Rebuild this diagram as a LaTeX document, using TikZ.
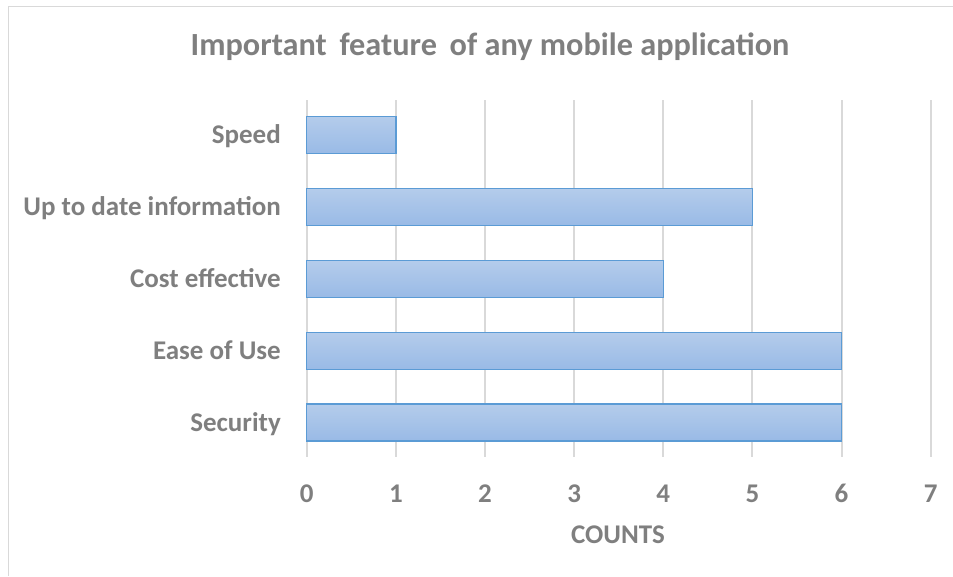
\documentclass[tikz,border=0pt]{standalone}
\usepackage{fontspec}
\setmainfont{Carlito}
\definecolor{txt}{HTML}{7F7F7F}
\definecolor{grid}{HTML}{D9D9D9}
\definecolor{barline}{HTML}{5B9BD5}
\definecolor{bartop}{HTML}{B4CCEB}
\definecolor{barbot}{HTML}{99BAE6}
\tikzset{
  lbl/.style={text=txt, font=\fontsize{27}{30}\selectfont\bfseries, inner sep=0pt},
  gridline/.style={draw=grid, line width=2pt},
  barbox/.style={draw=barline, line width=1.5pt, top color=bartop, bottom color=barbot}
}
\begin{document}
\begin{tikzpicture}[x=1pt,y=-1pt]
\useasboundingbox (0,0) rectangle (953,576);
% frame
\draw[grid, line width=1.5pt] (8.5,576) -- (8.5,6.5) -- (953,6.5);
% title
\node[lbl, font=\fontsize{32.3}{36}\selectfont\bfseries] (title) at (490,47) {Important\, feature\, of any mobile application};
% gridlines and ticks
\foreach \i in {0,...,7}{
  \coordinate (gt\i) at ({306.7+89.14*\i},100);
  \coordinate (gb\i) at ({306.7+89.14*\i},457);
  \draw[gridline] (gt\i) -- (gb\i);
  \node[lbl, anchor=base] (tick\i) at ({306.7+89.14*\i},502.5) {\i};
}
% bars
\foreach \v/\y/\n in {1/135/Speed, 5/207/Up to date information, 4/279/Cost effective, 6/351/Ease of Use, 6/422.5/Security}{
  \path[barbox] (306.7,\y-18.5) rectangle ({306.7+89.14*\v},\y+18.5);
  \node[lbl, anchor=base east] at (281,\y+8.5) {\n};
}
\node[lbl, anchor=base] (xlabel) at (618,543) {COUNTS};
\end{tikzpicture}
\end{document}
